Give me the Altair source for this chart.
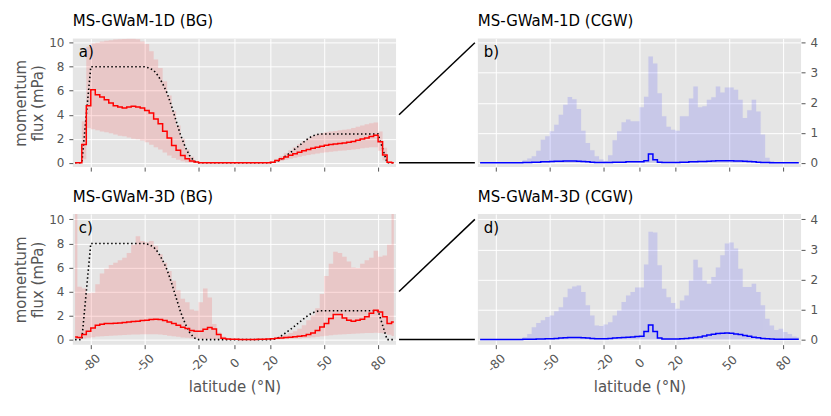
import altair as alt
import pandas as pd

# latitude bin centres (2.5 degree bins)
LAT = [-88.75 + 2.5 * k for k in range(72)]
TICKS = [-80, -50, -20, 0, 20, 50, 80]

# ---------- panel a: MS-GWaM-1D (BG) ----------
A_MEAN = [0, 0, 1.52, 4.75, 6.08, 5.66, 5.47, 5.25, 4.97, 4.75, 4.64, 4.56, 4.64, 4.7, 4.64, 4.56,
          4.36, 4.14, 3.65, 3.26, 2.62, 2.07, 1.44, 1.05, 0.61, 0.33, 0.14, 0.06,
          0, 0, 0, 0, 0, 0, 0, 0, 0, 0, 0, 0, 0, 0, 0, 0,
          0.05, 0.18, 0.33, 0.48, 0.62, 0.75, 0.88, 1.0, 1.1, 1.2, 1.3, 1.38, 1.45, 1.52, 1.57, 1.6,
          1.65, 1.7, 1.78, 1.87, 1.97, 2.07, 2.18, 2.3, 1.75, 0.65, 0.05, 0]
A_LO = [0, 0, 0.3, 2.9, 2.8, 2.7, 2.6, 2.55, 2.45, 2.35, 2.25, 2.2, 2.1, 2.0, 1.95, 1.85,
        1.7, 1.5, 1.3, 1.1, 0.85, 0.6, 0.4, 0.25, 0.12, 0.05,
        0, 0, 0, 0, 0, 0, 0, 0, 0, 0, 0, 0, 0, 0, 0, 0, 0, 0, 0,
        0.08, 0.15, 0.25, 0.33, 0.42, 0.5, 0.58, 0.65, 0.72, 0.78, 0.83, 0.88, 0.92, 0.96, 1.0,
        1.03, 1.06, 1.1, 1.15, 1.2, 1.25, 1.3, 1.3, 1.0, 0.2, 0, 0]
A_HI = [0, 0, 3.45, 9.67, 9.94, 10.0, 10.1, 10.17, 10.2, 10.27, 10.3, 10.32, 10.34, 10.34, 10.3, 10.1,
        9.9, 9.3, 8.6, 7.9, 6.8, 5.6, 4.3, 3.1, 2.0, 1.1, 0.5, 0.15, 0.03,
        0, 0, 0, 0, 0, 0, 0, 0, 0, 0, 0, 0, 0, 0, 0,
        0.1, 0.3, 0.55, 0.8, 1.05, 1.3, 1.55, 1.8, 2.0, 2.2, 2.35, 2.45, 2.55, 2.6, 2.65, 2.7,
        2.75, 2.8, 2.9, 3.0, 3.1, 3.2, 3.3, 3.35, 2.6, 1.25, 0.1, 0]

# ---------- panel b: MS-GWaM-1D (CGW) ----------
B_MEAN = [0, 0, 0, 0, 0, 0, 0, 0, 0, 0,
          0.01, 0.01, 0.02, 0.02, 0.03, 0.03, 0.04, 0.05, 0.05, 0.06, 0.06, 0.06, 0.05, 0.04,
          0.03, 0.02, 0.01, 0.01, 0.01, 0.01, 0.02, 0.02, 0.02, 0.03, 0.03, 0.03, 0.03, 0.07,
          0.29, 0.1, 0.02, 0.01, 0.01, 0.01, 0.01, 0.02, 0.02, 0.03, 0.03, 0.04, 0.04, 0.05,
          0.06, 0.07, 0.07, 0.07, 0.07, 0.06, 0.06, 0.05, 0.04, 0.03, 0.02, 0.01, 0.01,
          0, 0, 0, 0, 0, 0, 0]
B_HI = [0, 0, 0, 0, 0, 0, 0, 0, 0, 0,
        0.08, 0.14, 0.22, 0.4, 0.77, 0.88, 1.05, 1.27, 1.6, 1.93, 2.19, 2.12, 1.79, 1.07,
        0.66, 0.42, 0.22, 0.11, 0.06, 0.25, 0.75, 1.05, 1.35, 1.44, 1.38, 1.38, 1.85, 2.2,
        3.54, 3.31, 2.32, 1.55, 1.2, 1.1, 1.07, 1.55, 1.55, 2.14, 2.54, 1.85, 1.88, 2.1,
        2.18, 2.54, 2.34, 2.51, 2.51, 2.43, 2.1, 1.49, 1.75, 2.1, 1.71, 0.94, 0.17, 0.06,
        0.02, 0.01, 0, 0, 0, 0]

# ---------- panel c: MS-GWaM-3D (BG) ----------
C_MEAN = [0.22, 0.17, 0.42, 0.7, 0.97, 1.19, 1.28, 1.33, 1.33, 1.36, 1.39, 1.42, 1.47, 1.5, 1.53, 1.58,
          1.61, 1.67, 1.69, 1.67, 1.58, 1.47, 1.33, 1.19, 1.03, 0.92, 0.75, 0.7, 0.7, 0.86, 1.0, 0.88,
          0.42, 0.12, 0.05, 0.03, 0.02, 0.01, 0.01, 0.01, 0.01, 0.02, 0.03, 0.05, 0.08, 0.11,
          0.14, 0.17, 0.2, 0.23, 0.27, 0.33, 0.42, 0.55, 0.75, 1.05, 1.35, 1.75, 2.08, 2.08,
          1.8, 1.6, 1.53, 1.6, 1.7, 1.9, 2.2, 2.44, 2.3, 1.9, 1.33, 1.47]
C_LO = [0.05, 0.05, 0.1, 0.15, 0.2, 0.25, 0.28, 0.3, 0.32, 0.34, 0.36, 0.38, 0.4, 0.42, 0.43, 0.44,
        0.45, 0.45, 0.44, 0.42, 0.38, 0.33, 0.28, 0.23, 0.18, 0.15, 0.12, 0.1, 0.08, 0.07, 0.06,
        0.03, 0.01, 0, 0, 0, 0, 0, 0, 0, 0, 0, 0, 0, 0,
        0.02, 0.03, 0.05, 0.07, 0.09, 0.1, 0.13, 0.16, 0.2, 0.24, 0.28, 0.33, 0.37, 0.4, 0.43,
        0.45, 0.47, 0.48, 0.5, 0.52, 0.54, 0.55, 0.56, 0.54, 0.5, 0.4, 0.3]
C_HI = [11.0, 4.4, 4.25, 3.85, 3.9, 4.6, 5.5, 5.9, 6.2, 6.4, 6.6, 6.8, 7.2, 7.9, 8.6, 8.2,
        8.1, 8.2, 7.8, 7.1, 6.4, 5.7, 4.9, 4.1, 3.4, 3.1, 2.5, 2.4, 3.1, 4.25, 3.5, 1.3,
        0.6, 0.25, 0.1, 0.05, 0.05, 0.04, 0.04, 0.04, 0.05, 0.06, 0.07, 0.08, 0.1,
        0.2, 0.3, 0.4, 0.55, 0.7, 0.9, 1.2, 1.6, 2.0, 2.6, 3.8, 5.3, 6.3, 7.3, 7.2,
        6.9, 6.5, 6.0, 5.95, 6.3, 6.6, 6.8, 7.4, 6.9, 7.0, 7.9, 11.0]

# ---------- panel d: MS-GWaM-3D (CGW) ----------
D_MEAN = [0, 0, 0, 0, 0, 0, 0, 0, 0, 0,
          0.01, 0.01, 0.01, 0.02, 0.02, 0.03, 0.03, 0.04, 0.05, 0.06, 0.07, 0.07, 0.07, 0.06,
          0.05, 0.04, 0.03, 0.03, 0.03, 0.04, 0.05, 0.06, 0.07, 0.08, 0.09, 0.1, 0.11, 0.27,
          0.49, 0.27, 0.05, 0.02, 0.02, 0.02, 0.02, 0.03, 0.04, 0.05, 0.07, 0.09, 0.12, 0.15,
          0.18, 0.2, 0.21, 0.22, 0.21, 0.19, 0.17, 0.14, 0.11, 0.08, 0.06, 0.04, 0.03, 0.02,
          0.01, 0.01, 0.01, 0.01, 0.01, 0.01]
D_HI = [0, 0, 0, 0, 0, 0, 0, 0, 0, 0,
        0.08, 0.19, 0.41, 0.55, 0.64, 0.75, 0.8, 0.94, 1.08, 1.41, 1.69, 1.77, 1.8, 1.58,
        1.14, 0.8, 0.47, 0.45, 0.5, 0.58, 0.8, 0.97, 1.25, 1.47, 1.58, 1.73, 1.73, 2.5,
        3.59, 3.56, 2.47, 1.69, 1.41, 1.22, 1.03, 1.3, 1.47, 1.97, 2.66, 2.4, 1.97, 1.86,
        2.08, 2.4, 2.81, 3.2, 3.23, 3.03, 2.36, 1.75, 1.75, 1.86, 1.58, 1.14, 0.69, 0.47,
        0.32, 0.36, 0.25, 0.19, 0.1, 0.08]
ZEROS = [0] * 72

# ---------- reference launch spectrum (dotted) ----------
DOT_LAT = [-88.75, -85, -80, -50, -47.5, -45, -42.5, -40, -37.5, -35, -32.5, -30, -27.5, -25,
           -22.5, -20, -17.5, 20, 22.5, 25, 27.5, 30, 32.5, 35, 37.5, 40, 42.5, 45, 47.5, 50,
           80, 82.5, 85, 88.75]
DOT_VAL = [0, 0, 8, 8, 7.9, 7.7, 7.25, 6.6, 5.8, 4.7, 3.5, 2.3, 1.35, 0.6,
           0.15, 0.0, 0, 0, 0.05, 0.2, 0.45, 0.72, 1.0, 1.3, 1.6, 1.9, 2.15, 2.32, 2.4, 2.4,
           2.4, 1.2, 0, 0]

FONT = "DejaVu Sans"
GREY = "#555555"


def panel(mean, lo, hi, title, label, ydom, yvals, yorient, line_color, band_opacity,
          show_xlabels, height, dotted):
    df = pd.DataFrame({"lat": LAT, "mean": mean, "lo": lo, "hi": hi})
    xs = alt.Scale(domain=[-90, 90], nice=False, zero=False)
    ys = alt.Scale(domain=ydom, nice=False, zero=False)
    if show_xlabels:
        xaxis = alt.Axis(values=TICKS, labelAngle=315, labelAlign="center",
                         labelBaseline="middle", labelPadding=14, labelExpr="'' + datum.value",
                         labelOverlap=False, title="latitude (°N)", titlePadding=6)
    else:
        xaxis = alt.Axis(values=TICKS, labels=False, title=None)
    if yorient == "left":
        yaxis = alt.Axis(values=yvals, orient="left", title=["momentum", "flux (mPa)"],
                         titlePadding=3, titleLineHeight=17, labelPadding=5,
                         labelOverlap=False)
    else:
        yaxis = alt.Axis(values=yvals, orient="right", title=None, labelPadding=5,
                         labelOverlap=False)

    X = alt.X("lat:Q", scale=xs, axis=xaxis)

    band = alt.Chart(df).mark_area(
        interpolate="step", color=line_color, opacity=band_opacity, clip=True,
        stroke=line_color, strokeOpacity=0.06, strokeWidth=1
    ).encode(
        x=X,
        y=alt.Y("hi:Q", scale=ys, axis=yaxis),
        y2="lo:Q",
    )
    line = alt.Chart(df).mark_line(
        interpolate="step", color=line_color, strokeWidth=1.5, clip=True
    ).encode(x=X, y=alt.Y("mean:Q", scale=ys, axis=yaxis))
    layers = [band]
    if dotted:
        ddf = pd.DataFrame({"lat": DOT_LAT, "v": DOT_VAL})
        dots = alt.Chart(ddf).mark_line(
            color="black", strokeDash=[1.5, 2.5], strokeWidth=1.6, clip=True
        ).encode(x=X, y=alt.Y("v:Q", scale=ys, axis=yaxis))
        layers.append(dots)
    layers.append(line)
    lab = alt.Chart(pd.DataFrame({"t": [label]})).mark_text(
        align="left", baseline="middle", fontSize=15, color="black", font=FONT
    ).encode(text="t:N", x=alt.value(6), y=alt.value(14))
    layers.append(lab)
    return alt.layer(*layers).properties(
        width=324, height=height,
        title=alt.TitleParams(title, anchor="start", frame="group", fontSize=15,
                              fontWeight="normal", color="black", font=FONT, offset=8),
        view=alt.ViewBackground(fill="#E5E5E5", stroke=None),
    )


def connector(ydom, height):
    cdf = pd.DataFrame({"seg": ["top", "top", "bottom", "bottom"],
                        "x": [0, 1, 0, 1], "y": [4, 10, 0, 0]})
    return alt.Chart(cdf).mark_line(color="black", strokeWidth=1.5).encode(
        x=alt.X("x:Q", scale=alt.Scale(domain=[0, 1], nice=False, zero=False), axis=None),
        y=alt.Y("y:Q", scale=alt.Scale(domain=ydom, nice=False, zero=False), axis=None),
        detail="seg:N",
    ).properties(width=76, height=height)


YA = [-0.36, 10.36]
YB = [-0.144, 4.144]
YC = [-0.42, 10.45]
YD = [-0.168, 4.18]

pa = panel(A_MEAN, A_LO, A_HI, "MS-GWaM-1D (BG)", "a)", YA, [0, 2, 4, 6, 8, 10], "left",
           "#FF0000", 0.13, False, 129, True)
pb = panel(B_MEAN, ZEROS, B_HI, "MS-GWaM-1D (CGW)", "b)", YB, [0, 1, 2, 3, 4], "right",
           "#0000FF", 0.12, False, 129, False)
pc = panel(C_MEAN, C_LO, C_HI, "MS-GWaM-3D (BG)", "c)", YC, [0, 2, 4, 6, 8, 10], "left",
           "#FF0000", 0.13, True, 131, True)
pd_ = panel(D_MEAN, ZEROS, D_HI, "MS-GWaM-3D (CGW)", "d)", YD, [0, 1, 2, 3, 4], "right",
            "#0000FF", 0.12, True, 131, False)

row1 = alt.hconcat(pa, connector(YA, 129), pb, spacing=0)
row2 = alt.hconcat(pc, connector(YC, 131), pd_, spacing=0)

chart = alt.vconcat(row1, row2, spacing=18).configure_view(stroke=None).configure_axis(
    grid=True, gridColor="#FFFFFF", gridWidth=1, domain=False,
    tickColor=GREY, tickSize=4, tickWidth=1,
    labelColor=GREY, labelFontSize=12, labelFont=FONT,
    titleFont=FONT, titleFontSize=15, titleColor=GREY, titleFontWeight="normal",
).configure_title(font=FONT, fontWeight="normal").configure_text(font=FONT)

chart.save("out.html", embed_options={"renderer": "svg", "actions": False})
